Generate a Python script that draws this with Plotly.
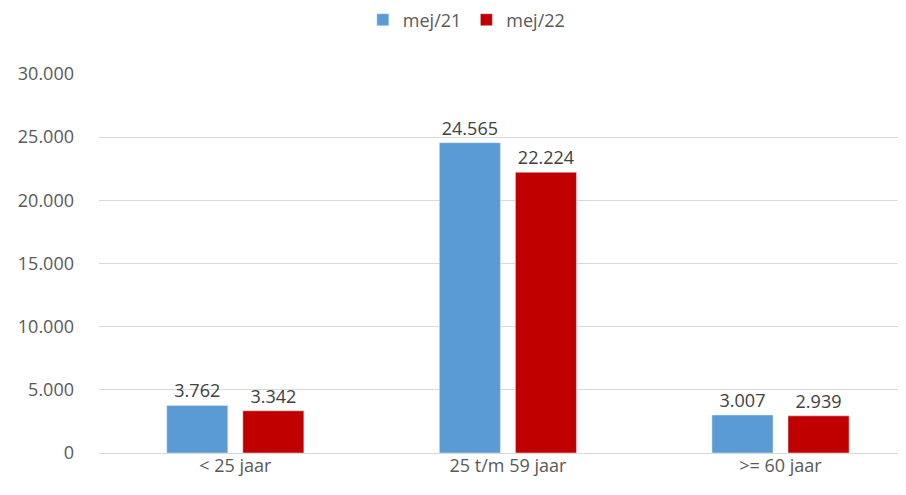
import plotly.graph_objects as go

categories = ["< 25 jaar", "25 t/m 59 jaar", ">= 60 jaar"]
mei21 = [3762, 24565, 3007]
mei22 = [3342, 22224, 2939]
series_names = ["mej/21", "mej/22"]
tick_vals = [0, 5000, 10000, 15000, 20000, 25000, 30000]
tick_text = ["0", "5.000", "10.000", "15.000", "20.000", "25.000", "30.000"]

def fmt(v):
    return f"{v:,}".replace(",", ".")

FONT = "Open Sans"
fig = go.Figure()
fig.add_trace(go.Bar(
    x=categories, y=mei21, name=series_names[0],
    marker=dict(color="#5b9bd5"),
    text=[fmt(v) for v in mei21], textposition="outside",
    textfont=dict(size=18, color="#404040", family=FONT),
    cliponaxis=False,
))
fig.add_trace(go.Bar(
    x=categories, y=mei22, name=series_names[1],
    marker=dict(color="#c00000"),
    text=[fmt(v) for v in mei22], textposition="outside",
    textfont=dict(size=18, color="#404040", family=FONT),
    cliponaxis=False,
))
fig.update_layout(
    width=890, height=479,
    margin=dict(l=91, r=0, t=66, b=34, autoexpand=False),
    paper_bgcolor="white", plot_bgcolor="white",
    barmode="group", bargap=0.442, bargroupgap=0.197,
    font=dict(family=FONT, color="#595959", size=18),
    showlegend=True,
    legend=dict(orientation="h", x=0.515, xanchor="center", xref="container",
                y=1.1425, yref="paper", yanchor="middle",
                font=dict(size=18, color="#595959", family=FONT),
                traceorder="normal"),
)
fig.update_xaxes(range=[-0.5, 2.431], showgrid=False, showline=False,
                 tickfont=dict(size=18, color="#595959", family=FONT), ticks="",
                 automargin=False)
fig.update_yaxes(range=[0, 30000], tickvals=tick_vals, ticktext=tick_text,
                 showgrid=True, gridcolor="#d9d9d9", gridwidth=1,
                 zeroline=True, zerolinecolor="#d9d9d9", zerolinewidth=1,
                 tickfont=dict(size=18, color="#595959", family=FONT),
                 ticklabelstandoff=24, automargin=False)
fig.write_html("out.html")
